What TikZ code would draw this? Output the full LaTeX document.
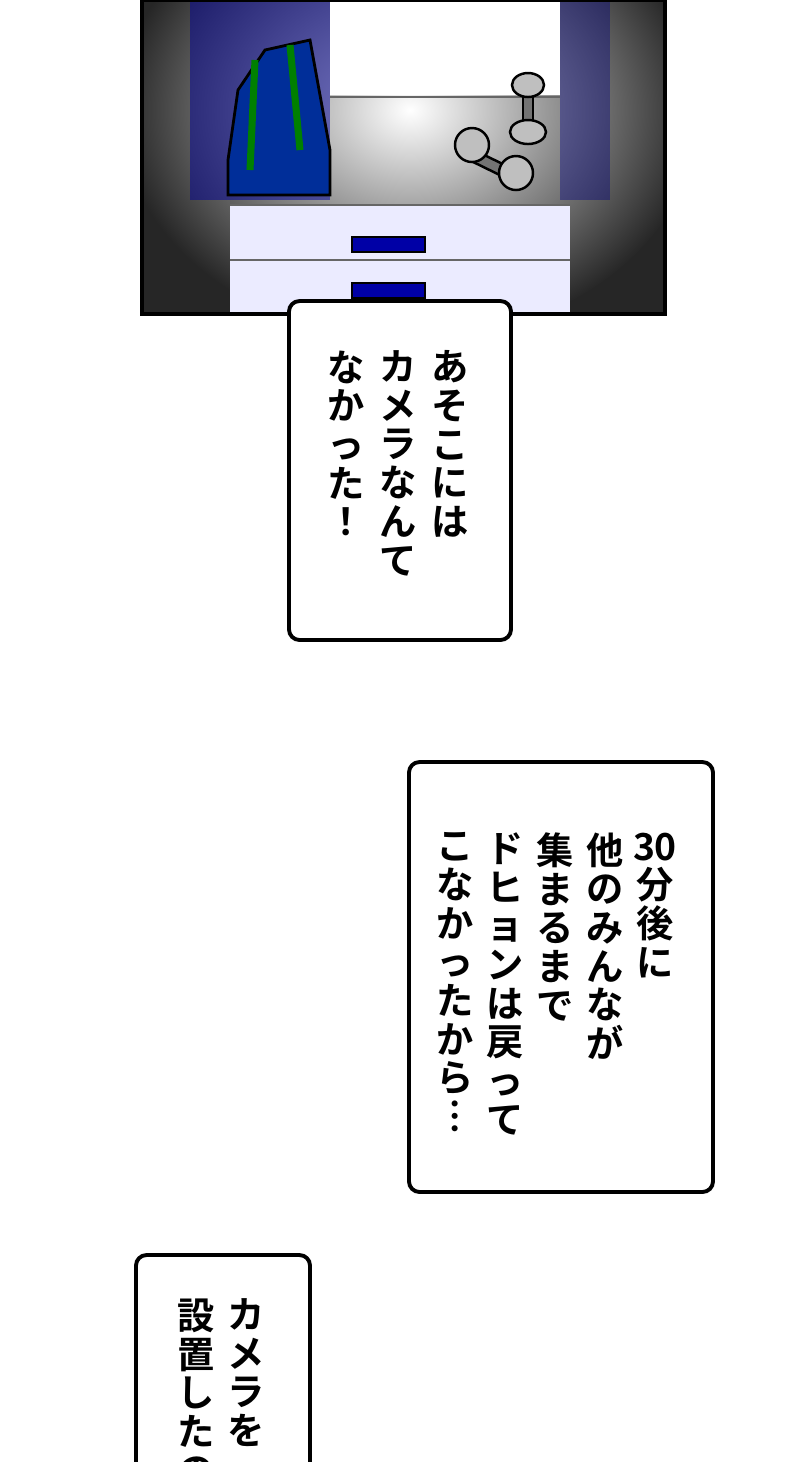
\documentclass[tikz,border=0pt]{standalone}
\usepackage{fontspec}
\newfontfamily\cjk{Noto Sans CJK JP Bold}
\usetikzlibrary{positioning}

\begin{document}
\begin{tikzpicture}[
        x=0.01cm, y=-0.01cm,
        caption/.style={draw, line width=1.1pt, rounded corners=3pt, fill=white},
        vline/.style={anchor=north, align=center, inner sep=0pt, font=\cjk\fontsize{10.6}{11}\selectfont},
        toolbox/.style={draw=black, line width=0.8pt, fill=blue!70!cyan!60!black},
        handle/.style={draw=black, fill=blue!65!black}
    ]
        \useasboundingbox (0,0) rectangle (800,1462);
        \fill[white] (0,0) rectangle (800,1462);

        % Panel
        \begin{scope}
            \clip (142,0) rectangle (665,314);
            \fill[black!85] (142,0) rectangle (665,314);
            \shade[inner color=white, outer color=black!85] (410,110) ellipse (290 and 230);
            \fill[blue!60!black, opacity=0.5] (190,0) rectangle (330,200);
            \fill[blue!50!black, opacity=0.4] (560,0) rectangle (610,200);
            \fill[white] (330,0) rectangle (560,95);
            \fill[white!92!blue] (230,205) rectangle (570,314);
            \draw[black!60] (230,205) -- (570,205) (230,260) -- (570,260);
            \draw[black!60] (330,97) -- (560,97);
            % toolbox
            \draw[toolbox] (228,160) -- (238,90) -- (265,50) -- (310,40) -- (330,150) -- (330,195) -- (228,195) -- cycle;
            \draw[green!50!black, line width=2pt] (255,60) -- (250,170) (290,45) -- (300,150);
            % drawer handles
            \draw[handle] (352,237) rectangle (425,252);
            \draw[handle] (352,283) rectangle (425,298);
            % dumbbells
            \draw[fill=black!55, line width=0.7pt] (523,85) rectangle (533,125);
            \draw[fill=black!25, line width=0.7pt] (528,85) ellipse (16 and 12);
            \draw[fill=black!25, line width=0.7pt] (528,132) ellipse (18 and 12);
            \draw[fill=black!55, line width=0.7pt] (470,148) -- (515,170) -- (510,180) -- (465,158) -- cycle;
            \draw[fill=black!25, line width=0.7pt] (472,145) circle (17);
            \draw[fill=black!25, line width=0.7pt] (516,173) circle (17);
        \end{scope}
        \draw[line width=1.1pt] (142,0) rectangle (665,314);

        % Caption 1
        \draw[caption] (289,301) rectangle (511,640);
        \node[vline] (c1a) at (450,350) {あ\\そ\\こ\\に\\は};
        \node[vline] (c1b) at (398,350) {カ\\メ\\ラ\\な\\ん\\て};
        \node[vline] (c1c) at (346,350) {な\\か\\っ\\た\\！};

        % Caption 2
        \draw[caption] (409,762) rectangle (713,1192);
        \node[vline] (c2a) at (655,832) {30\\分\\後\\に};
        \node[vline] (c2b) at (605,832) {他\\の\\み\\ん\\な\\が};
        \node[vline] (c2c) at (555,832) {集\\ま\\る\\ま\\で};
        \node[vline] (c2d) at (505,832) {ド\\ヒ\\ョ\\ン\\は\\戻\\っ\\て};
        \node[vline] (c2e) at (455,832) {こ\\な\\か\\っ\\た\\か\\ら\\︙};

        % Caption 3
        \begin{scope}
            \clip (0,0) rectangle (800,1462);
            \draw[caption] (136,1255) rectangle (310,1520);
            \node[vline] (c3a) at (246,1298) {カ\\メ\\ラ\\を};
            \node[vline] (c3b) at (196,1298) {設\\置\\し\\た\\の};
        \end{scope}
    \end{tikzpicture}
\end{document}
